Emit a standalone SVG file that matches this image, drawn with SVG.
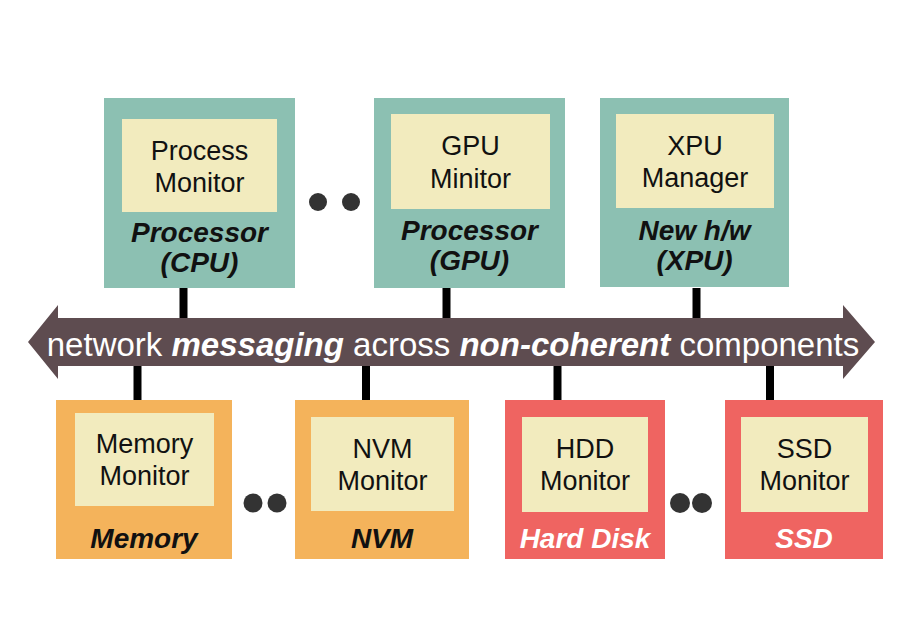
<svg xmlns="http://www.w3.org/2000/svg" width="912" height="621" viewBox="0 0 912 621">
  <style>
    .teal { fill: #8CC0B2; }
    .orange { fill: #F4B35B; }
    .red { fill: #EF6461; }
    .inner { fill: #F2EBBE; }
    .t { font-family: "Liberation Sans", Arial, sans-serif; font-size: 27px; fill: #111; text-anchor: middle; }
    .lbl { font-family: "Liberation Sans", Arial, sans-serif; font-size: 28px; font-weight: bold; font-style: italic; fill: #111; text-anchor: middle; }
    .lblw { font-family: "Liberation Sans", Arial, sans-serif; font-size: 28px; font-weight: bold; font-style: italic; fill: #ffffff; text-anchor: middle; }
    .bus { font-family: "Liberation Sans", Arial, sans-serif; font-size: 33px; fill: #ffffff; text-anchor: middle; }
    .dot { fill: #333333; }
    .link { stroke: #000000; stroke-width: 8; fill: none; }
  </style>
  <rect width="912" height="621" fill="#ffffff"/>

  <g id="connectors">
    <line class="link" x1="183.5" y1="288" x2="183.5" y2="320"/>
    <line class="link" x1="446.5" y1="288" x2="446.5" y2="320"/>
    <line class="link" x1="696.5" y1="288" x2="696.5" y2="320"/>
    <line class="link" x1="137.5" y1="364" x2="137.5" y2="400"/>
    <line class="link" x1="366" y1="364" x2="366" y2="400"/>
    <line class="link" x1="557.5" y1="364" x2="557.5" y2="400"/>
    <line class="link" x1="770" y1="364" x2="770" y2="400"/>
  </g>

  <g id="bus">
    <polygon fill="#5E4C50" points="28,342 58,305 58,318 843,318 843,305 875,342 843,379 843,366 58,366 58,379"/>
    <text class="bus" x="453" y="356">network <tspan font-weight="bold" font-style="italic">messaging</tspan> across <tspan font-weight="bold" font-style="italic">non-coherent</tspan> components</text>
  </g>

  <g id="cpu">
    <rect class="teal" x="104" y="98" width="191" height="190"/>
    <rect class="inner" x="122" y="119" width="155" height="93"/>
    <text class="t" x="199.5" y="160">Process</text>
    <text class="t" x="199.5" y="192">Monitor</text>
    <text class="lbl" x="199.5" y="242">Processor</text>
    <text class="lbl" x="199.5" y="272">(CPU)</text>
  </g>

  <g id="dots-top">
    <circle class="dot" cx="318" cy="202" r="9"/>
    <circle class="dot" cx="351" cy="202" r="9"/>
  </g>

  <g id="gpu">
    <rect class="teal" x="374" y="98" width="191" height="190"/>
    <rect class="inner" x="391" y="114" width="159" height="95"/>
    <text class="t" x="470.5" y="155">GPU</text>
    <text class="t" x="470.5" y="188">Minitor</text>
    <text class="lbl" x="469.5" y="240">Processor</text>
    <text class="lbl" x="469.5" y="270">(GPU)</text>
  </g>

  <g id="xpu">
    <rect class="teal" x="600" y="98" width="189" height="189"/>
    <rect class="inner" x="616" y="114" width="158" height="94"/>
    <text class="t" x="695" y="155">XPU</text>
    <text class="t" x="695" y="187">Manager</text>
    <text class="lbl" x="694.5" y="240">New h/w</text>
    <text class="lbl" x="694.5" y="270">(XPU)</text>
  </g>

  <g id="memory">
    <rect class="orange" x="56" y="400" width="176" height="159"/>
    <rect class="inner" x="75" y="413" width="139" height="93"/>
    <text class="t" x="144.5" y="453">Memory</text>
    <text class="t" x="144.5" y="485">Monitor</text>
    <text class="lbl" x="144" y="548">Memory</text>
  </g>

  <g id="dots-mem">
    <circle class="dot" cx="253" cy="503" r="9.5"/>
    <circle class="dot" cx="277" cy="503" r="9.5"/>
  </g>

  <g id="nvm">
    <rect class="orange" x="295" y="400" width="174" height="159"/>
    <rect class="inner" x="311" y="417" width="143" height="94"/>
    <text class="t" x="382.5" y="458">NVM</text>
    <text class="t" x="382.5" y="490">Monitor</text>
    <text class="lbl" x="382" y="548">NVM</text>
  </g>

  <g id="hdd">
    <rect class="red" x="505" y="400" width="160" height="159"/>
    <rect class="inner" x="522" y="417" width="126" height="95"/>
    <text class="t" x="585" y="458">HDD</text>
    <text class="t" x="585" y="490">Monitor</text>
    <text class="lblw" x="585" y="548">Hard Disk</text>
  </g>

  <g id="dots-disk">
    <circle class="dot" cx="680" cy="503" r="10"/>
    <circle class="dot" cx="702" cy="503" r="10"/>
  </g>

  <g id="ssd">
    <rect class="red" x="725" y="400" width="158" height="159"/>
    <rect class="inner" x="741" y="417" width="127" height="95"/>
    <text class="t" x="804.5" y="458">SSD</text>
    <text class="t" x="804.5" y="490">Monitor</text>
    <text class="lblw" x="804" y="548">SSD</text>
  </g>
</svg>
